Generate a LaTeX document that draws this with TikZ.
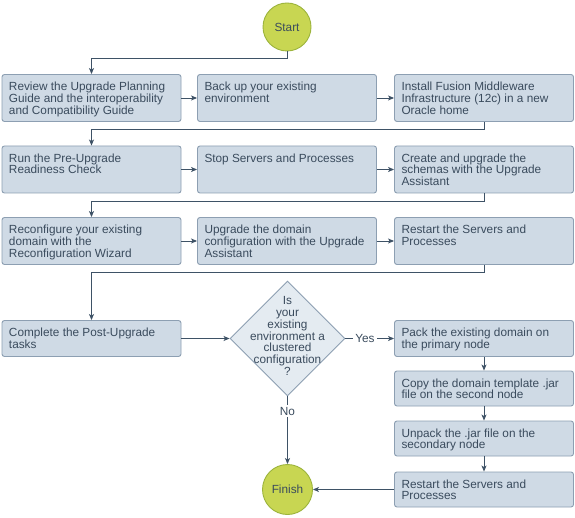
\documentclass[tikz,border=0pt]{standalone}
\usepackage{fontspec}
\setmainfont{Liberation Sans}
\usetikzlibrary{shapes.geometric,arrows.meta,calc}
\definecolor{boxfill}{HTML}{CFDAE5}
\definecolor{boxdraw}{HTML}{8D9FB2}
\definecolor{dfill}{HTML}{E4EBF1}
\definecolor{cfill}{HTML}{C8D652}
\definecolor{cdraw}{HTML}{9CB43C}
\definecolor{linec}{HTML}{3E5266}
\definecolor{txtc}{HTML}{3A4B5D}
\newcommand\bxt[2]{\parbox[c][#1][t]{165pt}{\raggedright\vspace*{7.6pt}#2}}
\begin{document}
\begin{tikzpicture}[x=1pt,y=-1pt,
  font=\fontsize{11.8}{11.7}\selectfont, text=txtc,
  stepbox/.style={draw=boxdraw, fill=boxfill, line width=0.9pt, rounded corners=2.5pt, minimum width=179pt, inner xsep=7pt, inner ysep=0pt},
  term/.style={circle, draw=cdraw, fill=cfill, line width=0.9pt, minimum size=48pt, inner sep=0pt},
  decision/.style={diamond, draw=boxdraw, fill=dfill, line width=0.9pt, minimum width=115pt, minimum height=115pt, inner sep=0pt},
  conn/.style={draw=linec, line width=0.9pt, -{Stealth[length=6pt,width=5pt,inset=1.5pt]}},
  lbl/.style={fill=white, inner sep=2pt}]
\fill[white] (0,0) rectangle (575,518);
\useasboundingbox (0,0) rectangle (575,518);

\node[term] (start) at (287,27) {Start};

\node[stepbox] (b1) at (91.5,98) {\bxt{47pt}{Review the Upgrade Planning\\Guide and the interoperability\\and Compatibility Guide}};
\node[stepbox] (b2) at (287,98) {\bxt{47pt}{Back up your existing\\environment}};
\node[stepbox] (b3) at (484,98) {\bxt{47pt}{Install Fusion Middleware\\Infrastructure (12c) in a new\\Oracle home}};

\node[stepbox] (b4) at (91.5,169.5) {\bxt{47pt}{Run the Pre-Upgrade\\Readiness Check}};
\node[stepbox] (b5) at (287,169.5) {\bxt{47pt}{Stop Servers and Processes}};
\node[stepbox] (b6) at (484,169.5) {\bxt{47pt}{Create and upgrade the\\schemas with the Upgrade\\Assistant}};

\node[stepbox] (b7) at (91.5,241) {\bxt{47pt}{Reconfigure your existing\\domain with the\\Reconfiguration Wizard}};
\node[stepbox] (b8) at (287,241) {\bxt{47pt}{Upgrade the domain\\configuration with the Upgrade\\Assistant}};
\node[stepbox] (b9) at (484,241) {\bxt{47pt}{Restart the Servers and\\Processes}};

\node[stepbox] (post) at (91.5,338.5) {\bxt{36pt}{Complete the Post-Upgrade\\tasks}};
\node[decision] (dec) at (287.5,338.5) {};
\node[align=center, inner sep=0pt] (dtxt) at (287.5,336) {Is\\your\\existing\\environment a\\clustered\\configuration\\?};

\node[stepbox] (pack) at (484,338.5) {\bxt{36pt}{Pack the existing domain on\\the primary node}};
\node[stepbox] (copy) at (484,388.5) {\bxt{35pt}{Copy the domain template .jar\\file on the second node}};
\node[stepbox] (unpack) at (484,438.5) {\bxt{35pt}{Unpack the .jar file on the\\secondary node}};
\node[stepbox] (restart2) at (484,489.5) {\bxt{35pt}{Restart the Servers and\\Processes}};

\node[term, minimum size=50pt] (finish) at (287.5,489.5) {Finish};

\draw[conn] (start.south) -- ++(0,7) -| (b1.north);
\draw[conn] (b1.east) -- (b2.west);
\draw[conn] (b2.east) -- (b3.west);
\draw[conn] (b3.south) -- ++(0,7.5) -| (b4.north);
\draw[conn] (b4.east) -- (b5.west);
\draw[conn] (b5.east) -- (b6.west);
\draw[conn] (b6.south) -- ++(0,8) -| (b7.north);
\draw[conn] (b7.east) -- (b8.west);
\draw[conn] (b8.east) -- (b9.west);
\draw[conn] (b9.south) -- ++(0,7.5) -| (post.north);
\draw[conn] (post.east) -- (dec.west);
\draw[conn] (dec.east) -- node[lbl,pos=0.4]{Yes} (pack.west);
\draw[conn] (dec.south) -- node[lbl,pos=0.22]{No} (finish.north);
\draw[conn] (pack.south) -- (copy.north);
\draw[conn] (copy.south) -- (unpack.north);
\draw[conn] (unpack.south) -- (restart2.north);
\draw[conn] (restart2.west) -- (finish.east);
\end{tikzpicture}
\end{document}
